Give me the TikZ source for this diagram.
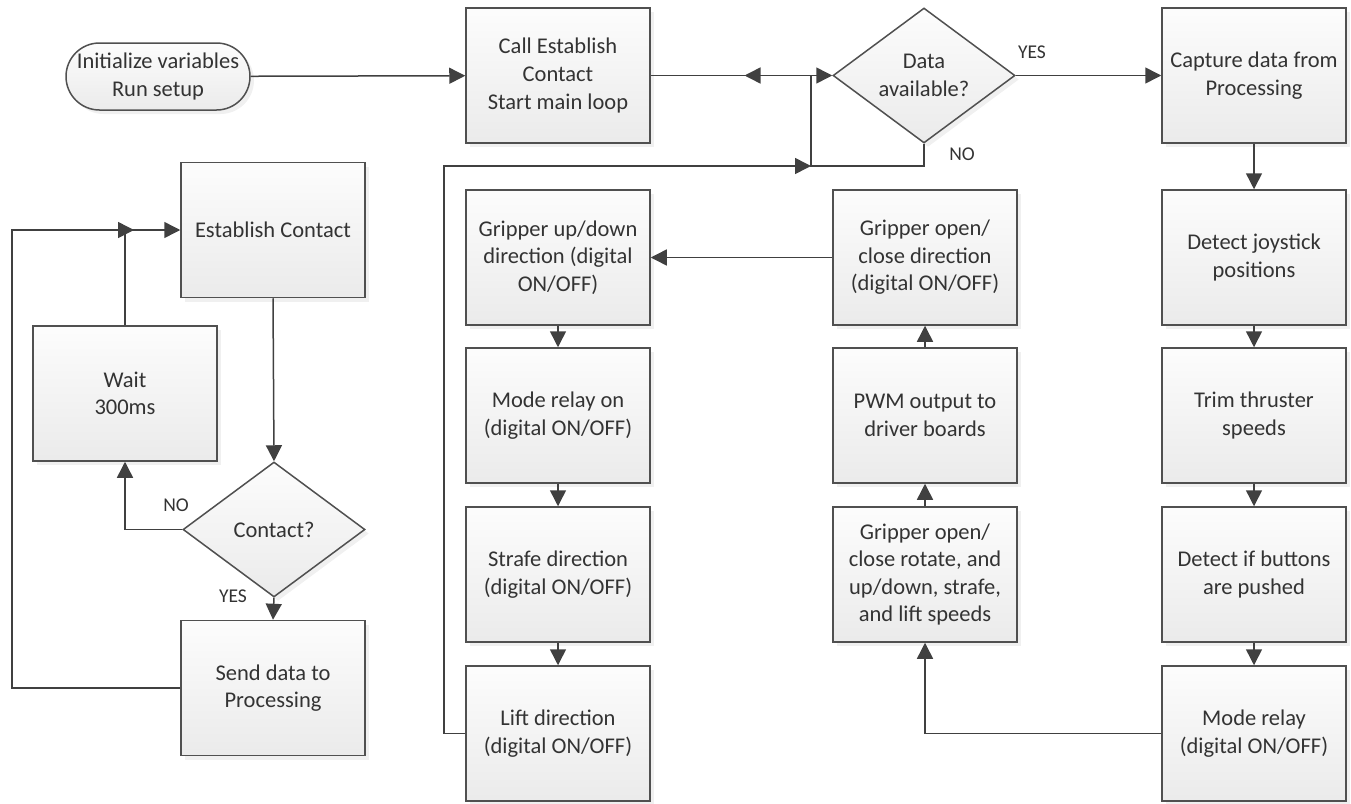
\documentclass[tikz,border=0pt]{standalone}
\usepackage{fontspec}
\setmainfont{Carlito}
\usetikzlibrary{shapes.geometric,shapes.misc,arrows.meta,decorations.markings,shadows}
\definecolor{edgec}{HTML}{505050}
\definecolor{ink}{HTML}{333333}
\definecolor{arr}{HTML}{404040}
\begin{document}
\begin{tikzpicture}[x=1pt,y=-1pt,
  common/.style={draw=edgec, line width=1.5pt, top color=gray!2, bottom color=gray!16,
    inner sep=0pt, align=center, text=ink, font=\fontsize{22.5}{27.5}\selectfont,
    drop shadow={opacity=0.12, shadow xshift=4pt, shadow yshift=-4pt}},
  box/.style={common, rectangle, minimum width=184pt, minimum height=135pt},
  term/.style={common, rounded rectangle, minimum width=184pt, minimum height=67pt},
  decision/.style={common, diamond, aspect=1.35, minimum width=182pt, minimum height=135pt},
  conn/.style={draw=arr, line width=1.5pt},
  arrow/.style={conn, -{Triangle[length=16pt,width=16pt]}},
  lab/.style={text=ink, font=\fontsize{19.5}{23}\selectfont, inner sep=0pt}]
\useasboundingbox (0,0) rectangle (1351,803);

% top row
\node[term] (init) at (158,76.5) {Initialize variables\\Run setup};
\node[box] (call) at (558,75.5) {Call Establish\\Contact\\Start main loop};
\node[decision] (data) at (924,75.5) {Data\\available?};
\node[box] (capture) at (1254,75.5) {Capture data from\\Processing};

% left group
\node[box] (establish) at (273,230) {Establish Contact};
\node[box] (wait) at (125,393.5) {Wait\\300ms};
\node[decision] (contact) at (274,529.5) {Contact?};
\node[box] (send) at (273,688) {Send data to\\Processing};

% middle-left column
\node[box] (gud) at (558,257.5) {Gripper up/down\\direction (digital\\ON/OFF)};
\node[box] (mro) at (558,415.5) {Mode relay on\\(digital ON/OFF)};
\node[box] (strafe) at (558,574.5) {Strafe direction\\(digital ON/OFF)};
\node[box] (lift) at (558,733.5) {Lift direction\\(digital ON/OFF)};

% middle-right column
\node[box] (goc) at (925,257.5) {Gripper open/\\close direction\\(digital ON/OFF)};
\node[box] (pwm) at (925,415.5) {PWM output to\\driver boards};
\node[box] (rot) at (925,574.5) {Gripper open/\\close rotate, and\\up/down, strafe,\\and lift speeds};

% right column
\node[box] (joy) at (1254,257.5) {Detect joystick\\positions};
\node[box] (trim) at (1254,415.5) {Trim thruster\\speeds};
\node[box] (btn) at (1254,574.5) {Detect if buttons\\are pushed};
\node[box] (mrel) at (1254,733.5) {Mode relay\\(digital ON/OFF)};

% junction coordinates
\coordinate (j1) at (811,75.5);
\coordinate (j2) at (924,166);
\coordinate (j3) at (811,166);
\coordinate (j4) at (444,166);
\coordinate (j5) at (444,733.5);
\coordinate (k1) at (125,230);
\coordinate (k2) at (134,230);
\coordinate (k3) at (12,230);
\coordinate (k4) at (12,688);
\coordinate (c1) at (125,529.5);
\coordinate (m1) at (925,733.5);

% top row connectors
\draw[arrow] (init) -- (call);
\draw[conn, postaction={decorate}, decoration={markings,
  mark=at position 0.415 with {\arrow{Triangle[length=16pt,width=16pt]}}}] (j1) -- (call.east);
\draw[arrow] (j1) -- (data.west);
\draw[arrow] (data.east) -- (capture.west);
\draw[conn] (data.south) -- (j2) -- (j3) -- (j1);
\draw[arrow] (lift.west) -- (j5) -- (j4) -- (j3);

% right column
\draw[arrow] (capture) -- (joy);
\draw[arrow] (joy) -- (trim);
\draw[arrow] (trim) -- (btn);
\draw[arrow] (btn) -- (mrel);
\draw[arrow] (mrel.west) -- (m1) -- (rot.south);

% middle-right column
\draw[arrow] (rot) -- (pwm);
\draw[arrow] (pwm) -- (goc);
\draw[arrow] (goc.west) -- (gud.east);

% middle-left column
\draw[arrow] (gud) -- (mro);
\draw[arrow] (mro) -- (strafe);
\draw[arrow] (strafe) -- (lift);

% left group
\draw[arrow] (establish.south) -- (contact.north);
\draw[arrow] (contact.west) -- (c1) -- (wait.south);
\draw[arrow] (wait.north) -- (k1) -- (establish.west);
\draw[arrow] (send.west) -- (k4) -- (k3) -- (k2);
\draw[arrow] (contact.south) -- (send.north);

% labels
\node[lab] (yes1) at (1032,52) {YES};
\node[lab] (no1) at (962,154) {NO};
\node[lab] (no2) at (176,505) {NO};
\node[lab] (yes2) at (233,596) {YES};
\end{tikzpicture}
\end{document}
